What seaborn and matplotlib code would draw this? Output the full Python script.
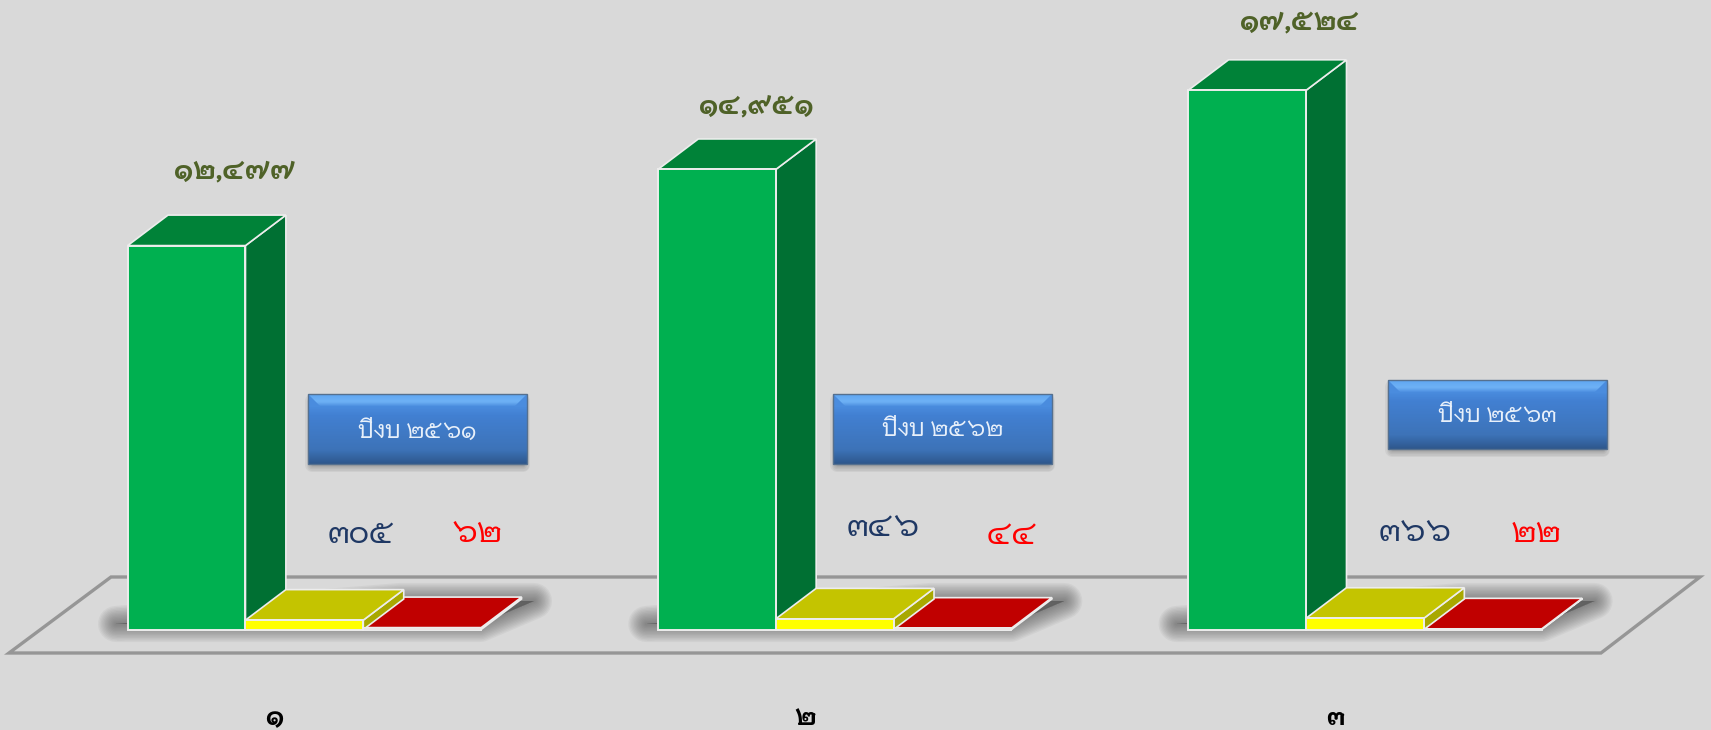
import numpy as np
import pandas as pd
import matplotlib
matplotlib.use("Agg")
import matplotlib.pyplot as plt
from matplotlib.colors import LinearSegmentedColormap
from matplotlib.patches import Polygon
from matplotlib.transforms import ScaledTranslation
import seaborn as sns

# values
groups = ["๑", "๒", "๓"]
years = ["ปีงบ ๒๕๖๑", "ปีงบ ๒๕๖๒", "ปีงบ ๒๕๖๓"]
green_values = [12477, 14951, 17524]
yellow_values = [305, 346, 366]
red_values = [62, 44, 22]

W, H = 1711, 730
BG = "#D9D9D9"
EDGE = "#EDEDED"
BASE_PX = 629.5
PX_PER_UNIT = 0.03077
GROUP_PX = 530.3
GROUP0_PX = 304.4
DEPTH_X_PX = 40.4
DEPTH_Y_PX = 30.5

# front, top, side colours per series
series_names = ["green", "yellow", "red"]
front_colors = {"green": "#00B050", "yellow": "#FFFF00", "red": "#E00000"}
top_colors = {"green": "#008238", "yellow": "#C4C400", "red": "#C00000"}
side_colors = {"green": "#007033", "yellow": "#A8A800", "red": "#900000"}

# label positions in picture pixels
top_label_xy = [(235, 171), (756, 106), (1299, 23)]
mid_label_xy = [(361, 535), (883, 528), (1415, 533)]
red_label_xy = [(477, 534), (1012, 536), (1536, 534)]
box_xy = [(308, 394, 219, 70), (833, 394, 219, 70), (1388, 380, 219, 69)]


def thai_num(v):
    digits = str.maketrans("0123456789", "๐๑๒๓๔๕๖๗๘๙")
    return f"{v:,}".translate(digits)


df = pd.DataFrame({
    "group": groups * 3,
    "series": ["green"] * 3 + ["yellow"] * 3 + ["red"] * 3,
    "value": green_values + yellow_values + red_values,
})

sns.set_theme(style="white")
plt.rcParams["font.family"] = ["Niramit", "Loma", "DejaVu Sans"]

fig = plt.figure(figsize=(W / 100, H / 100), dpi=100, facecolor=BG)

# back layer in picture pixels: floor, shadows, boxes, texts
deco = fig.add_axes([0, 0, 1, 1], zorder=0)
deco.set_xlim(0, W)
deco.set_ylim(H, 0)
deco.axis("off")

floor = [(9, 653), (1601, 653), (1700, 577), (111, 577)]
deco.add_patch(Polygon(floor, closed=True, facecolor="none", edgecolor="#969696", linewidth=2.4, joinstyle="miter"))

for g in range(3):
    off = GROUP_PX * g
    shade = [(116 + off, 624), (480 + off, 624), (534 + off, 601), (400 + off, 601)]
    for lw in range(26, 0, -2):
        deco.add_patch(Polygon(shade, closed=True, facecolor="#444444", edgecolor="#444444", alpha=0.055,
                               linewidth=lw, joinstyle="round"))

# blue boxes with a bevel
box_cmap = LinearSegmentedColormap.from_list("box", [
    (0.0, "#5FA6F2"), (0.1, "#6FB2F6"), (0.17, "#4A8CDE"), (0.3, "#4280D2"),
    (0.8, "#3D73B8"), (0.92, "#34639F"), (1.0, "#2E578C"),
])
for (x, y, w, h), label in zip(box_xy, years):
    for lw in range(10, 0, -2):
        deco.add_patch(Polygon([(x + 4, y + 7), (x + w - 4, y + 7), (x + w - 4, y + h + 1), (x + 4, y + h + 1)],
                               closed=True, facecolor="#444444", edgecolor="#444444", alpha=0.07,
                               linewidth=lw, joinstyle="round"))
    grad = np.linspace(0, 1, 64).reshape(-1, 1)
    deco.imshow(grad, extent=(x, x + w, y + h, y), aspect="auto", zorder=3, vmin=0, vmax=1, cmap=box_cmap)
    b = 13
    deco.add_patch(Polygon([(x, y), (x, y + b), (x + b, y + b)], closed=True,
                           facecolor="#4A8CDE", edgecolor="none", zorder=4))
    deco.add_patch(Polygon([(x + w, y), (x + w, y + b), (x + w - b, y + b)], closed=True,
                           facecolor="#4A8CDE", edgecolor="none", zorder=4))
    deco.add_patch(Polygon([(x, y), (x + w, y), (x + w, y + h), (x, y + h)], closed=True,
                           facecolor="none", edgecolor="#55708F", linewidth=1.0, zorder=4))
    deco.text(x + w / 2, y + h / 2 + 2, label, color="#E8F0FA", fontsize=16.5, ha="center", va="center", zorder=5)
deco.set_xlim(0, W)
deco.set_ylim(H, 0)

for xy, v in zip(top_label_xy, green_values):
    deco.text(*xy, thai_num(v), color="#4F6228", fontsize=20, fontweight="bold", ha="center", va="center")
for xy, v in zip(mid_label_xy, yellow_values):
    deco.text(*xy, thai_num(v), color="#1F3864", fontsize=23, ha="center", va="center")
for xy, v in zip(red_label_xy, red_values):
    deco.text(*xy, thai_num(v), color="#FF0000", fontsize=23, ha="center", va="center")

# bars sit on an axes whose bottom edge is the baseline
ax = fig.add_axes([0, 1 - BASE_PX / H, 1, BASE_PX / H], zorder=1)
ax.patch.set_visible(False)

sns.barplot(
    data=df, x="group", y="value", hue="series", hue_order=series_names,
    palette=front_colors, width=324 / 486, gap=0, saturation=1, errorbar=None,
    edgecolor=EDGE, linewidth=1.4, legend=False, ax=ax, zorder=6,
)

ax.set_xlim(-GROUP0_PX / GROUP_PX, (W - GROUP0_PX) / GROUP_PX)
ax.set_ylim(0, BASE_PX / PX_PER_UNIT)
depth_x = DEPTH_X_PX / GROUP_PX
depth_y = DEPTH_Y_PX / PX_PER_UNIT

# extruded top and side faces, taken from the bars seaborn drew
layer = {"green": 3, "yellow": 4, "red": 3}
for name, container in zip(series_names, ax.containers):
    for bar in container:
        x0 = bar.get_x()
        x1 = x0 + bar.get_width()
        y1 = bar.get_height()
        bar.set_clip_on(False)
        top = [(x0, y1), (x0 + depth_x, y1 + depth_y), (x1 + depth_x, y1 + depth_y), (x1, y1)]
        side = [(x1, 0), (x1, y1), (x1 + depth_x, y1 + depth_y), (x1 + depth_x, depth_y)]
        ax.add_patch(Polygon(side, closed=True, facecolor=side_colors[name], edgecolor=EDGE, linewidth=1.2,
                             zorder=layer[name], clip_on=False))
        ax.add_patch(Polygon(top, closed=True, facecolor=top_colors[name], edgecolor=EDGE, linewidth=1.2,
                             zorder=layer[name], clip_on=False))

ax.set_xlabel("")
ax.set_ylabel("")
ax.set_yticks([])
sns.despine(ax=ax, left=True, bottom=True)
ax.tick_params(axis="x", length=0, pad=55, labelsize=19, labelcolor="black")
shift = ScaledTranslation(-30 / 100, 0, fig.dpi_scale_trans)
for tick in ax.get_xticklabels():
    tick.set_fontweight("bold")
    tick.set_transform(tick.get_transform() + shift)

fig.savefig("out.png", dpi=100, facecolor=BG)
